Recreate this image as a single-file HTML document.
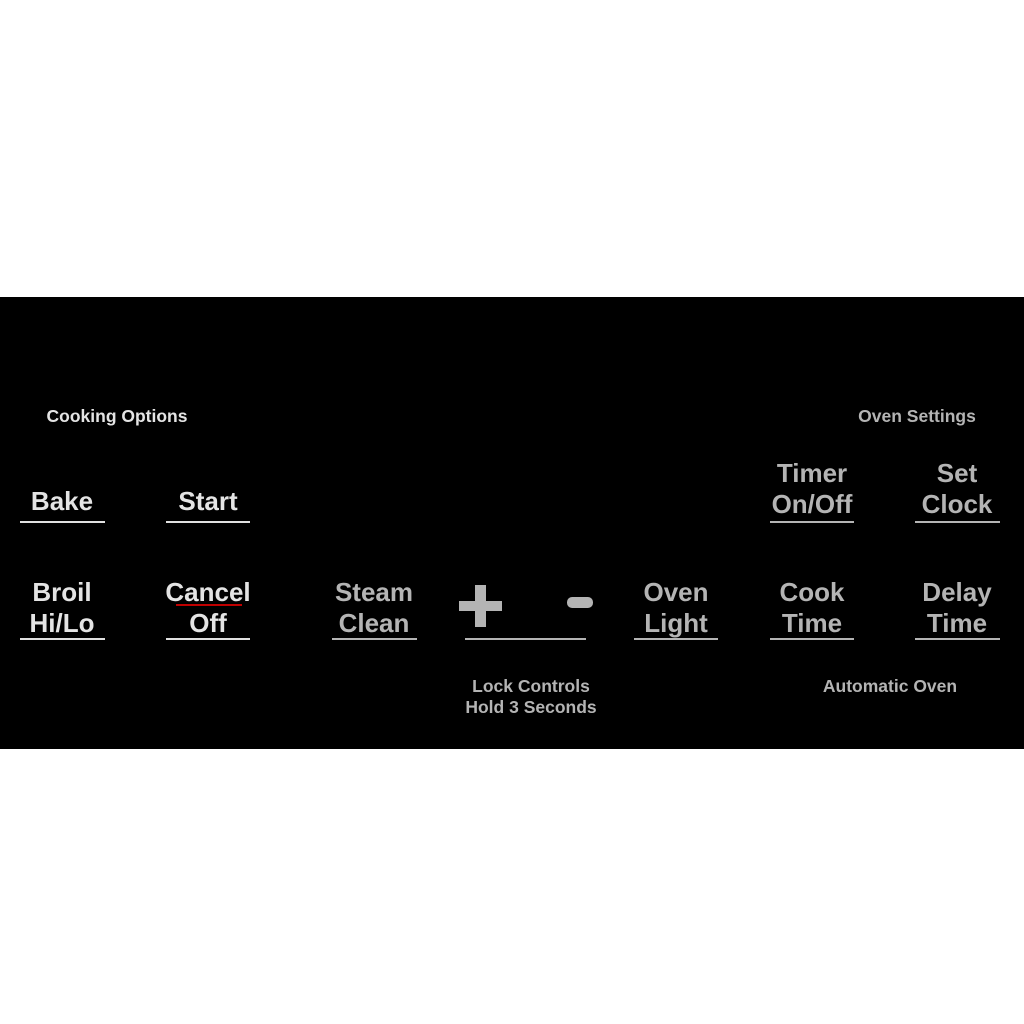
<!DOCTYPE html>
<html><head><style>
body{margin:0;width:1024px;height:1024px;background:#fff;position:relative;overflow:hidden;font-family:"Liberation Sans",sans-serif;}
#p{position:absolute;left:0;top:297px;width:1024px;height:452px;background:#000;}
.t{position:absolute;text-align:center;font-weight:bold;font-size:26px;line-height:31px;white-space:nowrap;}
.w{color:#e4e4e4}.g{color:#b4b4b4}
.l{position:absolute;height:2px;}
.lw{background:#e0e0e0}.lg{background:#b4b4b4}
.s{position:absolute;text-align:center;font-weight:bold;font-size:17.5px;line-height:21px;white-space:nowrap;}
</style></head><body>
<div id="p"></div>
<div class="s w" style="left:17px;width:200px;top:406px">Cooking Options</div>
<div class="s g" style="left:817px;width:200px;top:406px">Oven Settings</div>
<div class="s g" style="left:431px;width:200px;top:676px">Lock Controls<br>Hold 3 Seconds</div>
<div class="s g" style="left:790px;width:200px;top:676px">Automatic Oven</div>

<div class="t w" style="left:12px;width:100px;top:486px">Bake</div>
<div class="l lw" style="left:20px;width:85px;top:521px"></div>
<div class="t w" style="left:158px;width:100px;top:486px">Start</div>
<div class="l lw" style="left:166px;width:84px;top:521px"></div>

<div class="t w" style="left:12px;width:100px;top:577px">Broil<br>Hi/Lo</div>
<div class="l lw" style="left:20px;width:85px;top:638px"></div>
<div class="t w" style="left:158px;width:100px;top:577px">Cancel<br>Off</div>
<div style="position:absolute;left:176px;width:66px;top:604px;height:2px;background:#c00000"></div>
<div class="l lw" style="left:166px;width:84px;top:638px"></div>

<div class="t g" style="left:324px;width:100px;top:577px">Steam<br>Clean</div>
<div class="l lg" style="left:332px;width:85px;top:638px"></div>

<div style="position:absolute;left:459px;top:601px;width:43px;height:10px;background:#b4b4b4"></div>
<div style="position:absolute;left:475px;top:585px;width:11px;height:42px;background:#b4b4b4"></div>
<div style="position:absolute;left:567px;top:597px;width:26px;height:11px;border-radius:5px;background:#b4b4b4"></div>
<div class="l lg" style="left:465px;width:121px;top:638px"></div>

<div class="t g" style="left:626px;width:100px;top:577px">Oven<br>Light</div>
<div class="l lg" style="left:634px;width:84px;top:638px"></div>

<div class="t g" style="left:762px;width:100px;top:458px">Timer<br>On/Off</div>
<div class="l lg" style="left:770px;width:84px;top:521px"></div>
<div class="t g" style="left:907px;width:100px;top:458px">Set<br>Clock</div>
<div class="l lg" style="left:915px;width:85px;top:521px"></div>

<div class="t g" style="left:762px;width:100px;top:577px">Cook<br>Time</div>
<div class="l lg" style="left:770px;width:84px;top:638px"></div>
<div class="t g" style="left:907px;width:100px;top:577px">Delay<br>Time</div>
<div class="l lg" style="left:915px;width:85px;top:638px"></div>
</body></html>
